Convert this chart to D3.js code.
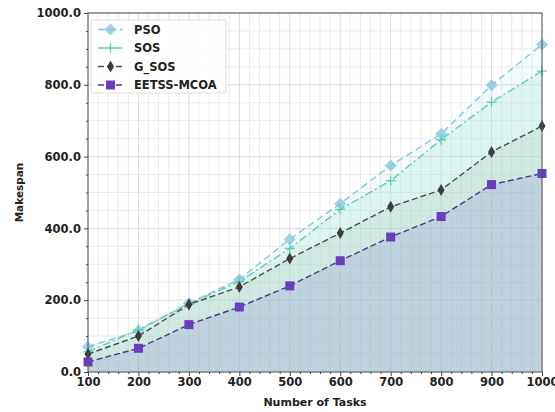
<!DOCTYPE html>
<html>
<head>
<meta charset="utf-8">
<script src="https://cdn.jsdelivr.net/npm/d3@7"></script>
<style>
  body { margin: 0; background: #fff; }
  text { font-family: "DejaVu Sans", sans-serif; font-weight: bold; }
</style>
</head>
<body>
<div id="wrapper"></div>
<script>
// chart values
const tasks = [100, 200, 300, 400, 500, 600, 700, 800, 900, 1000];
const pso = [70, 115, 192, 258, 370, 469, 575, 663, 799, 912];
const sos = [56, 118, 190, 252, 344, 453, 533, 647, 752, 838];
const gSos = [50, 100, 188, 237, 316, 387, 460, 507, 613, 685];
const eetss = [28, 66, 132, 181, 240, 310, 376, 433, 522, 553];
const seriesNames = ["PSO", "SOS", "G_SOS", "EETSS-MCOA"];
const yTicks = [0, 200, 400, 600, 800, 1000];

function buildPlot() {
    const dimension = {
        width: 555,
        height: 412,
        margin: { top: 13, left: 88, bottom: 40, right: 13 }
    };
    dimension.boundedWidth = dimension.width - dimension.margin.left - dimension.margin.right;
    dimension.boundedHeight = dimension.height - dimension.margin.top - dimension.margin.bottom;

    const svg = d3.select("#wrapper").append("svg")
        .attr("width", dimension.width)
        .attr("height", dimension.height);

    const bounded = svg.append("g")
        .attr("transform", `translate(${dimension.margin.left},${dimension.margin.top})`);

    const scaleX = d3.scaleLinear()
        .domain([100, 1000])
        .range([0, dimension.boundedWidth]);
    const scaleY = d3.scaleLinear()
        .domain([0, 1000])
        .range([dimension.boundedHeight, 0]);

    // grid, minor then major
    const grid = bounded.append("g");
    grid.selectAll(".vx").data(d3.range(100, 1001, 20)).enter().append("line")
        .attr("x1", d => scaleX(d)).attr("x2", d => scaleX(d))
        .attr("y1", 0).attr("y2", dimension.boundedHeight)
        .attr("stroke", d => d % 100 === 0 ? "#d2d2d2" : "#e6e6e6")
        .attr("stroke-width", 0.8);
    grid.selectAll(".hy").data(d3.range(0, 1001, 50)).enter().append("line")
        .attr("y1", d => scaleY(d)).attr("y2", d => scaleY(d))
        .attr("x1", 0).attr("x2", dimension.boundedWidth)
        .attr("stroke", d => d % 200 === 0 ? "#d2d2d2" : "#e6e6e6")
        .attr("stroke-width", 0.8);

    const series = [
        { name: seriesNames[0], values: pso, color: "#86c5e3", fill: "#bfe6f2", fillOp: 0.2, dash: "7,4", marker: "diamond", mColor: "#86c5e3" },
        { name: seriesNames[1], values: sos, color: "#5fcfb0", fill: "#9ae6cf", fillOp: 0.25, dash: "8,3,2,3", marker: "plus", mColor: "#5fcfb0" },
        { name: seriesNames[2], values: gSos, color: "#4d4d4d", fill: "#9fb5a8", fillOp: 0.18, dash: "6,3", marker: "thin", mColor: "#3d3d3d" },
        { name: seriesNames[3], values: eetss, color: "#4b3a86", fill: "#8a8fcc", fillOp: 0.25, dash: "6,3", marker: "square", mColor: "#6a3cc0" }
    ];

    const area = d3.area()
        .x((d, i) => scaleX(tasks[i]))
        .y0(scaleY(0))
        .y1(d => scaleY(d));
    const line = d3.line()
        .x((d, i) => scaleX(tasks[i]))
        .y(d => scaleY(d));

    series.forEach(s => {
        bounded.append("path")
            .attr("d", area(s.values))
            .attr("fill", s.fill)
            .attr("fill-opacity", s.fillOp);
    });

    function drawMarker(g, type, color, x, y) {
        if (type === "diamond") {
            g.append("path").attr("d", `M${x},${y-6}L${x+6},${y}L${x},${y+6}L${x-6},${y}Z`)
                .attr("fill", color).attr("fill-opacity", 0.8);
        } else if (type === "plus") {
            g.append("path").attr("d", `M${x-5},${y}H${x+5}M${x},${y-5}V${y+5}`)
                .attr("stroke", color).attr("stroke-width", 1.3);
        } else if (type === "thin") {
            g.append("path").attr("d", `M${x},${y-6}L${x+3.5},${y}L${x},${y+6}L${x-3.5},${y}Z`)
                .attr("fill", color);
        } else {
            g.append("rect").attr("x", x - 4.5).attr("y", y - 4.5)
                .attr("width", 9).attr("height", 9).attr("fill", color);
        }
    }

    series.forEach(s => {
        bounded.append("path")
            .attr("d", line(s.values))
            .attr("fill", "none")
            .attr("stroke", s.color)
            .attr("stroke-width", 1.4)
            .attr("stroke-dasharray", s.dash);
        const mg = bounded.append("g");
        s.values.forEach((v, i) => drawMarker(mg, s.marker, s.mColor, scaleX(tasks[i]), scaleY(v)));
    });

    // frame
    bounded.append("rect")
        .attr("width", dimension.boundedWidth)
        .attr("height", dimension.boundedHeight)
        .attr("fill", "none")
        .attr("stroke", "#555")
        .attr("stroke-width", 1);

    const xAxis = bounded.append("g")
        .attr("transform", `translate(0,${dimension.boundedHeight})`)
        .call(d3.axisBottom(scaleX).tickValues(tasks).tickSize(4).tickPadding(2).tickFormat(d3.format("d")));
    const xMinor = bounded.append("g")
        .attr("transform", `translate(0,${dimension.boundedHeight})`)
        .call(d3.axisBottom(scaleX).tickValues(d3.range(120, 1000, 20).filter(d => d % 100 !== 0)).tickSize(2).tickFormat(""));
    const yAxis = bounded.append("g")
        .call(d3.axisLeft(scaleY).tickValues(yTicks).tickSize(4).tickPadding(3).tickFormat(d3.format(".1f")));
    const yMinor = bounded.append("g")
        .call(d3.axisLeft(scaleY).tickValues(d3.range(50, 1000, 50).filter(d => d % 200 !== 0)).tickSize(2).tickFormat(""));

    [xAxis, xMinor, yAxis, yMinor].forEach(a => {
        a.select(".domain").remove();
        a.selectAll("line").attr("stroke", "#444");
        a.selectAll("text").attr("font-size", "11.5px").attr("fill", "#222");
    });

    svg.append("text")
        .attr("x", dimension.margin.left + dimension.boundedWidth / 2)
        .attr("y", 406)
        .attr("text-anchor", "middle")
        .attr("font-size", "11px")
        .attr("fill", "#222")
        .text("Number of Tasks");
    svg.append("text")
        .attr("transform", `translate(23,${dimension.margin.top + dimension.boundedHeight / 2}) rotate(-90)`)
        .attr("text-anchor", "middle")
        .attr("font-size", "10.5px")
        .attr("fill", "#222")
        .text("Makespan");

    // legend
    const legend = bounded.append("g").attr("transform", "translate(3,7)");
    legend.append("rect")
        .attr("width", 135).attr("height", 73).attr("rx", 2)
        .attr("fill", "#fff").attr("fill-opacity", 0.85)
        .attr("stroke", "#ddd");
    series.forEach((s, i) => {
        const y = 9.5 + i * 18.5;
        const row = legend.append("g");
        row.append("line").attr("x1", 7).attr("x2", 32).attr("y1", y).attr("y2", y)
            .attr("stroke", s.color).attr("stroke-width", 1.4).attr("stroke-dasharray", s.dash);
        drawMarker(row, s.marker, s.mColor, 19.5, y);
        row.append("text").attr("x", 43).attr("y", y).attr("dy", "0.35em")
            .attr("font-size", "11.5px").attr("fill", "#222").text(s.name);
    });
}

buildPlot();
</script>
</body>
</html>
